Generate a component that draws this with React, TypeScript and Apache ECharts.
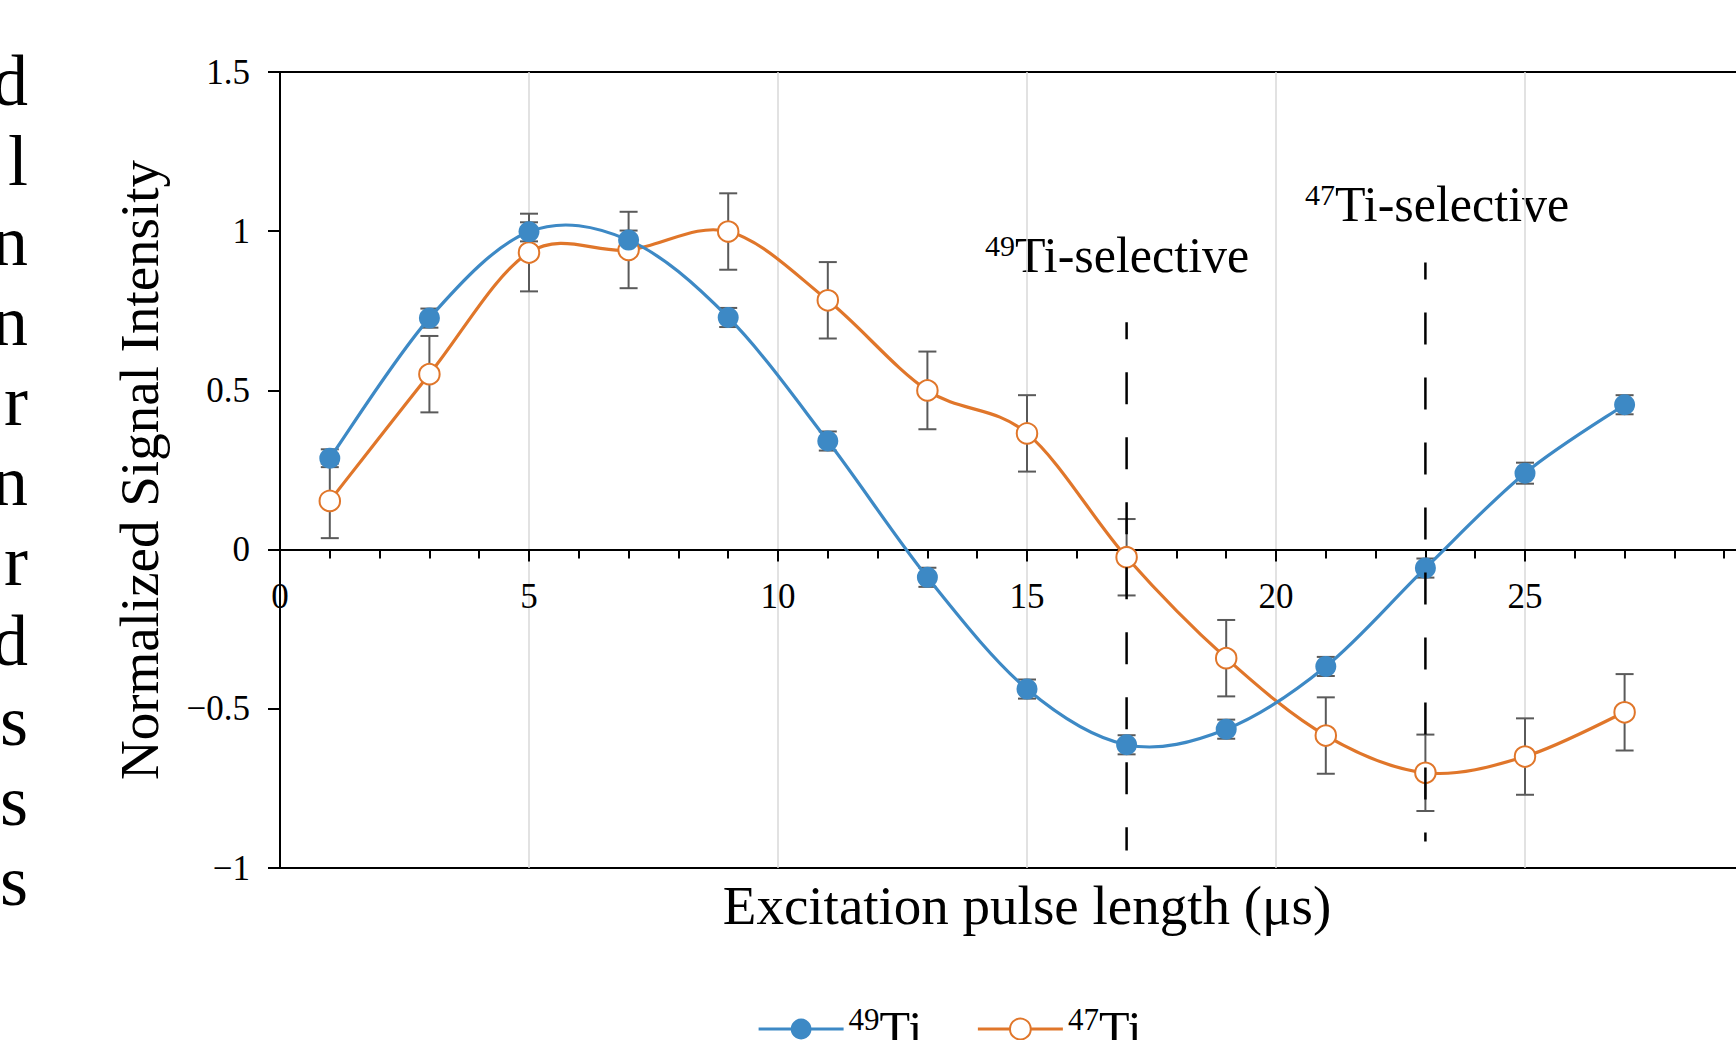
import React, { useEffect, useRef } from 'react';
import * as echarts from 'echarts';

// ---- data ----
const pulseLengths = [1, 3, 5, 7, 9, 11, 13, 15, 17, 19, 21, 23, 25, 27];
const ti49Values = [0.287, 0.727, 0.998, 0.972, 0.729, 0.341, -0.087, -0.438, -0.613, -0.564, -0.367, -0.058, 0.24, 0.455];
const ti49Errors = [0.028, 0.03, 0.03, 0.03, 0.03, 0.03, 0.03, 0.03, 0.03, 0.03, 0.03, 0.03, 0.033, 0.03];
const ti47Values = [0.153, 0.551, 0.933, 0.941, 0.999, 0.783, 0.5, 0.365, -0.024, -0.341, -0.584, -0.701, -0.65, -0.511];
const ti47Errors = [0.117, 0.12, 0.122, 0.12, 0.12, 0.12, 0.122, 0.12, 0.12, 0.12, 0.12, 0.12, 0.12, 0.12];

const selectivePulse = [17, 23];
const selectiveTop = [0.714, 0.902];
const selectiveBottom = [-0.945, -0.917];

const seriesNames = ['49Ti', '47Ti'];
const annotationTexts = ['49Ti-selective', '47Ti-selective'];
const marginLetters = ['d', 'l', 'n', 'n', 'r', 'n', 'r', 'd', 's', 's', 's'];

const xMin = 0;
const xMax = 30;
const xInterval = 5;
const yMin = -1;
const yMax = 1.5;
const yInterval = 0.5;

const xTitle = 'Excitation pulse length (μs)';
const yTitle = 'Normalized Signal Intensity';

const BLUE = '#3D89C5';
const ORANGE = '#E0762A';
const FONT = "'Liberation Serif', 'Times New Roman', serif";

const GRID_LEFT = 280;
const GRID_TOP = 72;
const GRID_W = 1494;
const GRID_H = 796;

const supRich = (s: string, sup: number, main: number) => {
  const m = s.match(/^(\d+)(.*)$/);
  if (!m) return s;
  return `{s${sup}|${m[1]}}{m${main}|${m[2]}}`;
};

// segments [prevX, prevY, x1, y1, x2, y2, nextX, nextY] for an Excel-like smoothed line
const segments = (xs: number[], ys: number[]) =>
  xs.slice(0, -1).map((_, i) => {
    const a = Math.max(i - 1, 0);
    const d = Math.min(i + 2, xs.length - 1);
    return [xs[a], ys[a], xs[i], ys[i], xs[i + 1], ys[i + 1], xs[d], ys[d]];
  });

const makeCurveRender = (color: string) => (params: any, api: any) => {
  const p0 = api.coord([api.value(0), api.value(1)]);
  const p1 = api.coord([api.value(2), api.value(3)]);
  const p2 = api.coord([api.value(4), api.value(5)]);
  const p3 = api.coord([api.value(6), api.value(7)]);
  const t = 1 / 6;
  return {
    type: 'bezierCurve',
    shape: {
      x1: p1[0],
      y1: p1[1],
      x2: p2[0],
      y2: p2[1],
      cpx1: p1[0] + (p2[0] - p0[0]) * t,
      cpy1: p1[1] + (p2[1] - p0[1]) * t,
      cpx2: p2[0] - (p3[0] - p1[0]) * t,
      cpy2: p2[1] - (p3[1] - p1[1]) * t,
    },
    style: { stroke: color, lineWidth: 3.2, fill: 'none' },
  };
};

const errorRender = (params: any, api: any) => {
  const x = api.value(0);
  const lo = api.coord([x, api.value(1)]);
  const hi = api.coord([x, api.value(2)]);
  const hw = 9;
  const style = { stroke: '#5A5A5A', lineWidth: 2 };
  return {
    type: 'group',
    children: [
      { type: 'line', shape: { x1: lo[0], y1: lo[1], x2: hi[0], y2: hi[1] }, style },
      { type: 'line', shape: { x1: lo[0] - hw, y1: lo[1], x2: lo[0] + hw, y2: lo[1] }, style },
      { type: 'line', shape: { x1: hi[0] - hw, y1: hi[1], x2: hi[0] + hw, y2: hi[1] }, style },
    ],
  };
};

const dashRender = (params: any, api: any) => {
  const x = api.value(0);
  const top = api.coord([x, api.value(1)]);
  const bottom = api.coord([x, api.value(2)]);
  return {
    type: 'line',
    shape: { x1: top[0], y1: top[1], x2: bottom[0], y2: bottom[1] },
    style: { stroke: '#000', lineWidth: 2.5, lineDash: [32, 33], lineDashOffset: 15 },
  };
};

export default function App() {
  const ref = useRef<HTMLDivElement>(null);

  useEffect(() => {
    if (!ref.current) return;
    const chart = echarts.init(ref.current, undefined, { renderer: 'svg' });

    const ti49Data = pulseLengths.map((x, i) => [x, ti49Values[i]]);
    const ti47Data = pulseLengths.map((x, i) => [x, ti47Values[i]]);
    const ti49Err = pulseLengths.map((x, i) => [x, ti49Values[i] - ti49Errors[i], ti49Values[i] + ti49Errors[i]]);
    const ti47Err = pulseLengths.map((x, i) => [x, ti47Values[i] - ti47Errors[i], ti47Values[i] + ti47Errors[i]]);
    const dashData = selectivePulse.map((x, i) => [x, selectiveTop[i], selectiveBottom[i]]);
    // x axis crosses the y axis at 0: shift it up from the grid bottom
    const zeroOffset = -((0 - yMin) / (yMax - yMin)) * GRID_H;

    const option: any = {
      animation: false,
      backgroundColor: '#fff',
      textStyle: { fontFamily: FONT },
      grid: {
        left: GRID_LEFT,
        top: GRID_TOP,
        width: GRID_W,
        height: GRID_H,
        show: true,
        borderColor: '#000',
        borderWidth: 2,
        containLabel: false,
        outerBoundsMode: 'none',
      },
      xAxis: {
        type: 'value',
        min: xMin,
        max: xMax,
        interval: xInterval,
        position: 'bottom',
        offset: zeroOffset,
        axisLine: { show: true, onZero: false, lineStyle: { color: '#000', width: 2 } },
        axisTick: { show: true, length: 12, lineStyle: { color: '#000', width: 2 } },
        minorTick: { show: true, splitNumber: 5, length: 9, lineStyle: { color: '#000', width: 2 } },
        axisLabel: { color: '#000', fontSize: 35, fontFamily: FONT, margin: 29 },
        splitLine: { show: true, lineStyle: { color: '#D9D9D9', width: 1.5 } },
        name: xTitle,
        nameLocation: 'middle',
        nameGap: 328,
        nameTextStyle: { color: '#000', fontSize: 55, fontFamily: FONT },
      },
      yAxis: {
        type: 'value',
        min: yMin,
        max: yMax,
        interval: yInterval,
        axisLine: { show: true, lineStyle: { color: '#000', width: 2 } },
        axisTick: { show: true, length: 12, lineStyle: { color: '#000', width: 2 } },
        axisLabel: {
          color: '#000',
          fontSize: 35,
          fontFamily: FONT,
          margin: 30,
          formatter: (v: number) => String(v).replace('-', '\u2212'),
        },
        splitLine: { show: false },
        name: yTitle,
        nameLocation: 'middle',
        nameGap: 113,
        nameTextStyle: { color: '#000', fontSize: 55, fontFamily: FONT },
      },
      legend: {
        data: [
          { name: seriesNames[0] },
          { name: seriesNames[1], itemStyle: { borderWidth: 2.5 } },
        ],
        left: 752,
        top: 999,
        itemWidth: 85,
        itemHeight: 26,
        itemGap: 54,
        selectedMode: false,
        lineStyle: { width: 3.2, opacity: 1 },
        formatter: (name: string) => supRich(name, 31, 50),
        textStyle: {
          color: '#000',
          fontFamily: FONT,
          rich: {
            s31: { fontSize: 31, fontFamily: FONT, color: '#000', verticalAlign: 'top' },
            m50: { fontSize: 50, fontFamily: FONT, color: '#000' },
          },
        },
      },
      graphic: [
        {
          type: 'text',
          x: 28,
          y: 41,
          silent: true,
          style: {
            text: marginLetters.join('\n'),
            fontSize: 72,
            fontFamily: FONT,
            lineHeight: 80,
            fill: '#000',
            align: 'right',
            verticalAlign: 'top',
          },
        },
        {
          type: 'text',
          x: 985,
          y: 230,
          silent: true,
          style: {
            text: supRich(annotationTexts[0], 30, 50),
            fontFamily: FONT,
            fill: '#000',
            align: 'left',
            verticalAlign: 'top',
            rich: {
              s30: { fontSize: 30, fontFamily: FONT, fill: '#000', verticalAlign: 'top' },
              m50: { fontSize: 50, fontFamily: FONT, fill: '#000' },
            },
          },
        },
        {
          type: 'text',
          x: 1305,
          y: 179,
          silent: true,
          style: {
            text: supRich(annotationTexts[1], 30, 50),
            fontFamily: FONT,
            fill: '#000',
            align: 'left',
            verticalAlign: 'top',
            rich: {
              s30: { fontSize: 30, fontFamily: FONT, fill: '#000', verticalAlign: 'top' },
              m50: { fontSize: 50, fontFamily: FONT, fill: '#000' },
            },
          },
        },
      ],
      series: [
        {
          type: 'custom',
          name: 'err49',
          renderItem: errorRender,
          data: ti49Err,
          encode: { x: 0, y: [1, 2] },
          z: 1,
          silent: true,
        },
        {
          type: 'custom',
          name: 'err47',
          renderItem: errorRender,
          data: ti47Err,
          encode: { x: 0, y: [1, 2] },
          z: 1,
          silent: true,
        },
        {
          type: 'custom',
          name: 'curve47',
          renderItem: makeCurveRender(ORANGE),
          data: segments(pulseLengths, ti47Values),
          encode: { x: [0, 2, 4, 6], y: [1, 3, 5, 7] },
          z: 2,
          silent: true,
        },
        {
          type: 'custom',
          name: 'curve49',
          renderItem: makeCurveRender(BLUE),
          data: segments(pulseLengths, ti49Values),
          encode: { x: [0, 2, 4, 6], y: [1, 3, 5, 7] },
          z: 2,
          silent: true,
        },
        {
          type: 'line',
          name: seriesNames[1],
          data: ti47Data,
          symbol: 'emptyCircle',
          symbolSize: 20.5,
          showAllSymbol: true,
          color: ORANGE,
          lineStyle: { color: ORANGE, width: 3, opacity: 0 },
          itemStyle: { color: ORANGE, borderColor: ORANGE, borderWidth: 2.5 },
          z: 3,
        },
        {
          type: 'line',
          name: seriesNames[0],
          data: ti49Data,
          symbol: 'circle',
          symbolSize: 21,
          showAllSymbol: true,
          color: BLUE,
          lineStyle: { color: BLUE, width: 3, opacity: 0 },
          itemStyle: { color: BLUE },
          z: 4,
        },
        {
          type: 'custom',
          name: 'selective',
          renderItem: dashRender,
          data: dashData,
          encode: { x: 0, y: [1, 2] },
          z: 10,
          silent: true,
        },
      ],
    };

    chart.setOption(option);
    return () => chart.dispose();
  }, []);

  return (
    <div
      ref={ref}
      style={{ position: 'fixed', left: 0, top: 0, width: 1736, height: 1040, background: '#fff' }}
    />
  );
}
